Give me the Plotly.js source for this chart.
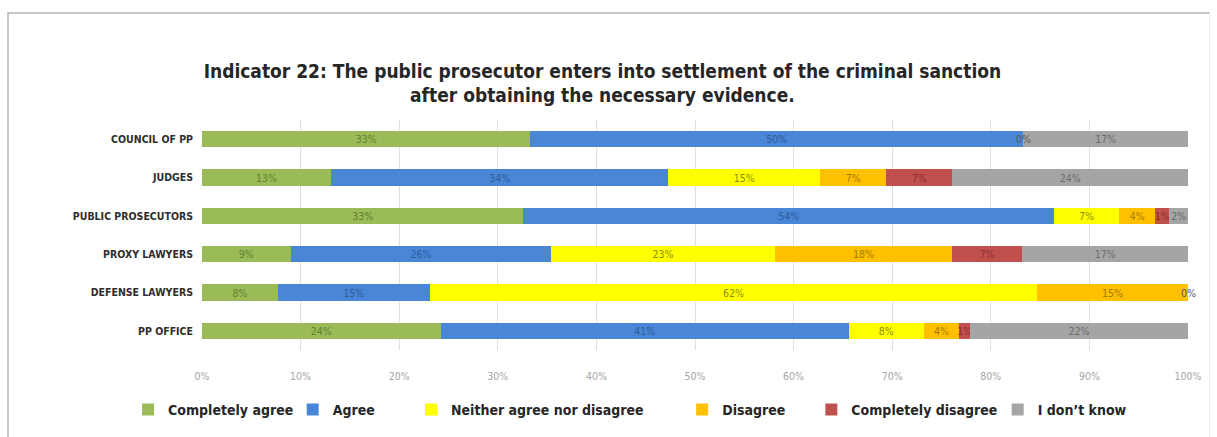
<!DOCTYPE html>
<html>
<head>
<meta charset="utf-8">
<script src="https://cdn.plot.ly/plotly-3.0.1.min.js"></script>
<style>
  html, body { margin: 0; padding: 0; background: #ffffff; }
  #wrap { position: relative; width: 1217px; height: 437px; overflow: hidden; }
  #frame { position: absolute; left: 7px; top: 12px; width: 1200px; height: 440px;
           border-top: 2px solid #c8c8c8; border-left: 2px solid #c8c8c8; border-right: 1px solid #ececec; pointer-events: none; }
  #chart { position: absolute; left: 0; top: 0; width: 1217px; height: 437px; }
</style>
</head>
<body>
<div id="wrap">
  <div id="chart"></div>
  <div id="frame"></div>
</div>
<script>
// ---- data (percent) ----
const categories = ["COUNCIL OF PP", "JUDGES", "PUBLIC PROSECUTORS", "PROXY LAWYERS", "DEFENSE LAWYERS", "PP OFFICE"];
const seriesNames = ["Completely agree", "Agree", "Neither agree nor disagree", "Disagree", "Completely disagree", "I don\u2019t know"];
const completelyAgree    = [33.3, 13.1, 32.6,  9.0,  7.7, 24.2];
const agree              = [50.0, 34.2, 53.8, 26.4, 15.4, 41.4];
const neitherAgree       = [ 0.0, 15.4,  6.6, 22.7, 61.6,  7.6];
const disagree           = [null,  6.7,  3.7, 18.0, 15.3,  3.6];
const completelyDisagree = [null,  6.7,  1.4,  7.1,  0.0,  1.1];
const dontKnow           = [16.7, 23.9,  1.9, 16.8, null, 22.1];
const xTickVals  = [0, 10, 20, 30, 40, 50, 60, 70, 80, 90, 100];
const xTickText  = ["0%", "10%", "20%", "30%", "40%", "50%", "60%", "70%", "80%", "90%", "100%"];

// ---- styles ----
const FONT = "Liberation Sans Narrow, DejaVu Sans Condensed, Arial Narrow, sans-serif";
const barColors  = ["#9bbb59", "#4a86d6", "#ffff00", "#ffc000", "#c0504d", "#a5a5a5"];
const textColors = ["#62802e", "#2d5a9a", "#8c8c00", "#a67a00", "#8a2f2d", "#6b6b6b"];
const legendX = [-0.075, 0.092, 0.212, 0.487, 0.618, 0.807];

const allSeries = [completelyAgree, agree, neitherAgree, disagree, completelyDisagree, dontKnow];

const traces = allSeries.map((vals, i) => ({
  type: "bar",
  orientation: "h",
  name: seriesNames[i],
  y: categories,
  x: vals,
  marker: { color: barColors[i] },
  texttemplate: "%{x:.0f}%",
  textposition: "inside",
  insidetextanchor: "middle",
  constraintext: "none",
  textangle: 0,
  textfont: { family: FONT, size: 10.5, color: textColors[i] },
  hoverinfo: "skip",
  legend: i === 0 ? "legend" : "legend" + (i + 1)
}));

// labels for zero-valued segments (placed at the running total of that row, in data units)
const zeroLabels = [];
categories.forEach((c, r) => {
  let run = 0;
  allSeries.forEach(vals => {
    const v = vals[r];
    if (v === 0) {
      zeroLabels.push({
        x: run, y: c, xref: "x", yref: "y", text: "0%", showarrow: false,
        xanchor: "center", yanchor: "middle",
        font: { family: FONT, size: 10.5, color: "#5a5a5a" }
      });
    }
    if (v != null) run += v;
  });
});

const layout = {
  width: 1217, height: 437,
  paper_bgcolor: "rgba(0,0,0,0)", plot_bgcolor: "rgba(0,0,0,0)",
  margin: { l: 202, r: 29, t: 120, b: 86 },
  barmode: "stack",
  bargap: 0.58,
  showlegend: true,
  annotations: zeroLabels,
  title: {
    text: "<b>Indicator 22: The public prosecutor enters into settlement of the criminal sanction<br>after obtaining the necessary evidence.</b>",
    font: { family: FONT, size: 19, color: "#262626" },
    x: 0.495, xanchor: "center", xref: "container",
    y: 0.822, yanchor: "middle", yref: "container"
  },
  xaxis: {
    range: [0, 100], tickvals: xTickVals, ticktext: xTickText,
    showgrid: true, gridcolor: "#dedede", gridwidth: 1,
    zeroline: false, showline: false, ticks: "",
    tickfont: { family: FONT, size: 10.5, color: "#a6a6a6" },
    ticklabelstandoff: 18, fixedrange: true
  },
  yaxis: {
    autorange: "reversed", showgrid: false, zeroline: false, showline: false, ticks: "",
    tickfont: { family: FONT, size: 10.5, color: "#2e2e2e", weight: "bold" },
    ticklabelstandoff: 8, fixedrange: true
  },
  font: { family: FONT }
};

seriesNames.forEach((n, i) => {
  const key = i === 0 ? "legend" : "legend" + (i + 1);
  layout[key] = {
    x: legendX[i], xanchor: "left", xref: "paper",
    y: -0.255, yanchor: "middle", yref: "paper",
    orientation: "h", bgcolor: "rgba(0,0,0,0)", borderwidth: 0,
    font: { family: FONT, size: 14, color: "#262626", weight: "bold" },
    itemclick: false, itemdoubleclick: false
  };
});

Plotly.newPlot("chart", traces, layout, { displayModeBar: false, staticPlot: true });
</script>
</body>
</html>
